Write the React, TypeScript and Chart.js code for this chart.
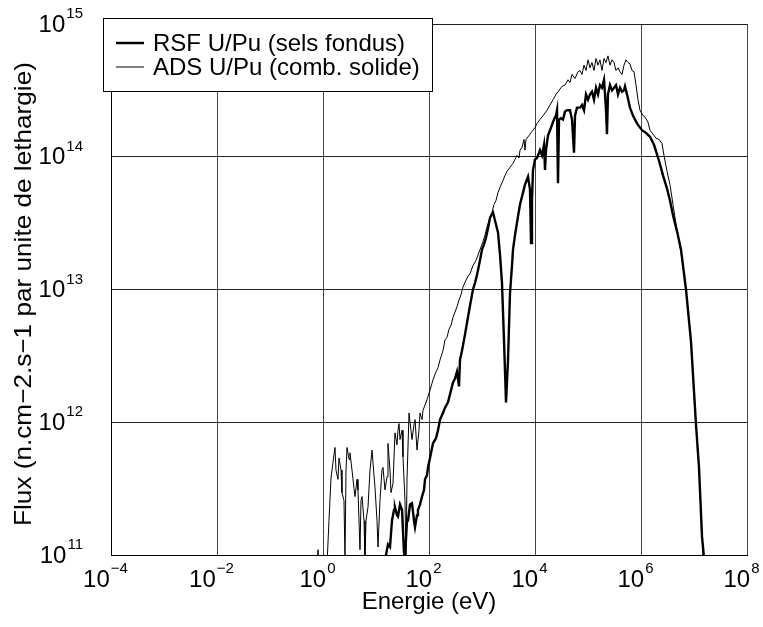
import { useEffect, useRef } from "react";
import { Chart, registerables } from "chart.js";

Chart.register(...registerables);

// Values, stored as log10 of energy (eV) and log10 of flux.
const rsfLog10Energy = [
  1.170, 1.189, 1.226, 1.264, 1.302, 1.340, 1.358, 1.396, 1.415, 1.453, 1.491, 1.528, 1.547, 1.585, 1.604,
  1.642, 1.679, 1.717, 1.736, 1.774, 1.792, 1.830, 1.868, 1.906, 1.925, 1.962, 1.981, 2.019, 2.075, 2.132,
  2.170, 2.208, 2.264, 2.302, 2.358, 2.396, 2.453, 2.491, 2.528, 2.566, 2.585, 2.623, 2.679, 2.717, 2.774,
  2.830, 2.868, 2.906, 2.962, 3.000, 3.038, 3.075, 3.113, 3.151, 3.189, 3.208, 3.245, 3.283, 3.302, 3.340,
  3.377, 3.415, 3.453, 3.491, 3.528, 3.566, 3.585, 3.623, 3.679, 3.717, 3.774, 3.811, 3.868, 3.906, 3.925,
  3.943, 3.962, 4.000, 4.038, 4.094, 4.132, 4.170, 4.189, 4.208, 4.245, 4.283, 4.321, 4.358, 4.396, 4.415,
  4.434, 4.453, 4.491, 4.528, 4.566, 4.604, 4.660, 4.698, 4.736, 4.755, 4.792, 4.849, 4.887, 4.925, 4.962,
  5.000, 5.038, 5.075, 5.113, 5.151, 5.189, 5.226, 5.264, 5.302, 5.321, 5.340, 5.358, 5.377, 5.415, 5.453,
  5.491, 5.528, 5.566, 5.604, 5.642, 5.679, 5.698, 5.736, 5.792, 5.849, 5.887, 5.943, 6.019, 6.094, 6.170,
  6.245, 6.340, 6.415, 6.491, 6.547, 6.604, 6.679, 6.755, 6.849, 6.943, 7.038, 7.094, 7.151, 7.189, 7.208,
];
const rsfLog10Flux = [
  10.92, 11.00, 11.08, 11.06, 11.26, 11.34, 11.36, 11.30, 11.29, 11.38, 11.34, 11.02, 10.98, 11.26, 11.26,
  11.38, 11.39, 11.26, 11.21, 11.30, 11.34, 11.38, 11.44, 11.49, 11.57, 11.60, 11.66, 11.73, 11.84, 11.88,
  11.94, 12.02, 12.07, 12.11, 12.15, 12.21, 12.30, 12.33, 12.38, 12.27, 12.47, 12.54, 12.66, 12.75, 12.88,
  13.00, 13.05, 13.11, 13.22, 13.30, 13.34, 13.39, 13.46, 13.54, 13.57, 13.58, 13.52, 13.46, 13.43, 13.26,
  13.05, 12.62, 12.15, 12.47, 12.97, 13.18, 13.30, 13.41, 13.55, 13.64, 13.73, 13.79, 13.85, 13.75, 13.35,
  13.67, 13.90, 13.98, 13.99, 14.05, 14.01, 14.09, 13.90, 14.05, 14.16, 14.20, 14.24, 14.28, 14.31, 14.35,
  13.80, 14.28, 14.29, 14.28, 14.34, 14.35, 14.35, 14.28, 14.03, 14.31, 14.37, 14.37, 14.39, 14.35, 14.47,
  14.43, 14.47, 14.49, 14.43, 14.52, 14.47, 14.54, 14.52, 14.58, 14.47, 14.35, 14.17, 14.47, 14.54, 14.50,
  14.52, 14.54, 14.47, 14.52, 14.49, 14.50, 14.53, 14.47, 14.37, 14.31, 14.28, 14.24, 14.20, 14.18, 14.15,
  14.09, 13.97, 13.86, 13.76, 13.67, 13.56, 13.44, 13.30, 13.00, 12.61, 11.98, 11.66, 11.14, 10.98, 10.89,
];

const adsLog10Energy = [
  -0.113, -0.094, -0.075, 0.075, 0.113, 0.151, 0.189, 0.226, 0.245, 0.283, 0.302, 0.340, 0.358, 0.396, 0.415,
  0.434, 0.453, 0.491, 0.509, 0.547, 0.585, 0.604, 0.642, 0.660, 0.698, 0.717, 0.736, 0.774, 0.792, 0.811,
  0.849, 0.887, 0.925, 0.962, 0.981, 1.019, 1.038, 1.075, 1.113, 1.132, 1.170, 1.208, 1.226, 1.264, 1.283,
  1.321, 1.358, 1.396, 1.415, 1.434, 1.453, 1.491, 1.509, 1.547, 1.566, 1.585, 1.623, 1.660, 1.679, 1.717,
  1.736, 1.774, 1.811, 1.830, 1.868, 1.887, 1.925, 1.962, 2.019, 2.075, 2.132, 2.170, 2.208, 2.264, 2.302,
  2.340, 2.377, 2.415, 2.453, 2.491, 2.528, 2.566, 2.604, 2.642, 2.698, 2.736, 2.774, 2.830, 2.887, 2.925,
  2.962, 3.019, 3.057, 3.094, 3.151, 3.189, 3.226, 3.264, 3.302, 3.340, 3.396, 3.434, 3.472, 3.528, 3.585,
  3.623, 3.660, 3.698, 3.717, 3.755, 3.792, 3.811, 3.830, 3.849, 3.887, 3.925, 3.962, 4.000, 4.038, 4.094,
  4.151, 4.189, 4.226, 4.283, 4.340, 4.396, 4.453, 4.509, 4.566, 4.623, 4.660, 4.698, 4.755, 4.811, 4.849,
  4.887, 4.925, 4.962, 5.000, 5.038, 5.075, 5.113, 5.151, 5.189, 5.226, 5.264, 5.302, 5.340, 5.377, 5.415,
  5.453, 5.491, 5.528, 5.566, 5.604, 5.642, 5.679, 5.717, 5.755, 5.792, 5.830, 5.868, 5.906, 5.943, 5.981,
  6.038, 6.075, 6.132, 6.170, 6.226, 6.283, 6.340, 6.396, 6.434, 6.491, 6.547, 6.604, 6.679, 6.755, 6.849,
  6.943, 7.038, 7.094, 7.151, 7.170, 7.189,
];
const adsLog10Flux = [
  10.92, 11.04, 10.92, 10.92, 11.26, 11.58, 11.70, 11.81, 11.64, 11.57, 11.73, 11.64, 11.47, 11.41, 10.96,
  11.64, 11.81, 11.72, 11.77, 11.64, 11.50, 11.44, 11.57, 11.49, 11.04, 11.41, 11.44, 11.26, 10.96, 11.26,
  11.36, 11.64, 11.79, 11.60, 11.51, 11.26, 11.06, 11.41, 11.64, 11.66, 11.49, 11.59, 11.84, 11.64, 11.47,
  11.54, 11.92, 11.83, 11.94, 11.99, 11.87, 11.94, 11.74, 11.41, 10.96, 11.57, 12.07, 11.94, 11.87, 11.98,
  12.02, 11.79, 11.94, 12.07, 12.02, 12.09, 12.13, 12.17, 12.24, 12.32, 12.38, 12.41, 12.47, 12.54, 12.62,
  12.64, 12.70, 12.73, 12.79, 12.83, 12.87, 12.92, 12.96, 13.02, 13.07, 13.10, 13.12, 13.18, 13.22, 13.26,
  13.30, 13.36, 13.41, 13.47, 13.54, 13.58, 13.64, 13.67, 13.73, 13.77, 13.82, 13.86, 13.89, 13.92, 13.95,
  13.98, 14.01, 13.99, 14.05, 14.07, 14.13, 14.05, 14.13, 14.14, 14.16, 14.18, 14.20, 14.22, 14.25, 14.28,
  14.31, 14.33, 14.35, 14.39, 14.43, 14.47, 14.50, 14.53, 14.54, 14.58, 14.56, 14.62, 14.59, 14.64, 14.65,
  14.62, 14.69, 14.65, 14.73, 14.67, 14.71, 14.65, 14.74, 14.69, 14.73, 14.65, 14.74, 14.71, 14.76, 14.69,
  14.73, 14.71, 14.65, 14.67, 14.64, 14.62, 14.69, 14.73, 14.71, 14.70, 14.65, 14.64, 14.54, 14.43, 14.35,
  14.31, 14.30, 14.26, 14.20, 14.17, 14.14, 14.13, 14.10, 14.01, 13.89, 13.79, 13.64, 13.44, 13.28, 13.00,
  12.61, 11.98, 11.66, 11.14, 11.00, 10.89,
];

const seriesLabels = ["RSF U/Pu (sels fondus)", "ADS U/Pu (comb. solide)"];
const xTickExponents = [-4, -2, 0, 2, 4, 6, 8];
const yTickExponents = [11, 12, 13, 14, 15];
const xAxisTitle = "Energie (eV)";
const yAxisTitle = "Flux (n.cm\u22122.s\u22121 par unite de lethargie)";

const FONT = '"Liberation Sans", Arial, Helvetica, sans-serif';

function toPoints(logE: number[], logF: number[]) {
  return logE.map((e, i) => ({ x: Math.pow(10, e), y: Math.pow(10, logF[i]) }));
}

function expText(e: number) {
  return e < 0 ? "\u2212" + Math.abs(e) : String(e);
}

const textPlugin = {
  id: "customText",
  afterDraw(chart: any) {
    const ctx = chart.ctx as CanvasRenderingContext2D;
    const xs = chart.scales.x;
    const ys = chart.scales.y;
    const base = `24px ${FONT}`;
    const sup = `15px ${FONT}`;
    ctx.save();
    ctx.fillStyle = "#000";
    ctx.textBaseline = "middle";
    ctx.textAlign = "left";

    // x tick labels
    xTickExponents.forEach((e) => {
      const px = xs.getPixelForValue(Math.pow(10, e));
      const s = expText(e);
      ctx.font = base;
      const w1 = ctx.measureText("10").width;
      ctx.font = sup;
      const w2 = ctx.measureText(s).width;
      const left = px - (w1 + w2) / 2 - 6;
      ctx.font = base;
      ctx.fillText("10", left, 580);
      ctx.font = sup;
      ctx.fillText(s, left + w1 + 1, 569);
    });

    // y tick labels
    yTickExponents.forEach((e) => {
      const py = ys.getPixelForValue(Math.pow(10, e));
      const s = expText(e);
      ctx.font = base;
      const w1 = ctx.measureText("10").width;
      ctx.font = sup;
      const w2 = ctx.measureText(s).width;
      const right = 83;
      const left = right - w2 - 1 - w1;
      ctx.font = base;
      ctx.fillText("10", left, py + 1);
      ctx.font = sup;
      ctx.fillText(s, left + w1 + 1, py - 10);
    });

    // axis titles
    ctx.font = base;
    ctx.textAlign = "center";
    ctx.fillText(xAxisTitle, (xs.left + xs.right) / 2, 602);
    ctx.save();
    ctx.translate(24, 294);
    ctx.rotate(-Math.PI / 2);
    ctx.scale(1.09, 1);
    ctx.fillText(yAxisTitle, 0, 0);
    ctx.restore();

    // legend
    const bx = 103.5, by = 18.5, bw = 329, bh = 73;
    ctx.fillStyle = "#fff";
    ctx.fillRect(bx, by, bw, bh);
    ctx.strokeStyle = "#000";
    ctx.lineWidth = 1;
    ctx.strokeRect(bx, by, bw, bh);
    const rows = [
      { y: 43, w: 2.5 },
      { y: 67, w: 1 },
    ];
    ctx.fillStyle = "#000";
    ctx.textAlign = "left";
    ctx.font = base;
    rows.forEach((r, i) => {
      ctx.beginPath();
      ctx.lineWidth = r.w;
      ctx.moveTo(116, r.y);
      ctx.lineTo(144, r.y);
      ctx.stroke();
      ctx.fillText(seriesLabels[i], 153, r.y + 1);
    });
    ctx.restore();
  },
};

export default function App() {
  const canvasRef = useRef<HTMLCanvasElement | null>(null);

  useEffect(() => {
    const canvas = canvasRef.current;
    if (!canvas) return;
    const chart = new Chart(canvas, {
      type: "scatter",
      data: {
        datasets: [
          {
            label: seriesLabels[0],
            data: toPoints(rsfLog10Energy, rsfLog10Flux),
            showLine: true,
            borderColor: "#000",
            backgroundColor: "#000",
            borderWidth: 2.4,
            pointRadius: 0,
            tension: 0,
          },
          {
            label: seriesLabels[1],
            data: toPoints(adsLog10Energy, adsLog10Flux),
            showLine: true,
            borderColor: "#000",
            backgroundColor: "#000",
            borderWidth: 1,
            pointRadius: 0,
            tension: 0,
          },
        ],
      },
      options: {
        responsive: false,
        animation: false,
        events: [],
        layout: { padding: { top: 24, right: 16, left: 0, bottom: 0 } },
        plugins: {
          legend: { display: false },
          tooltip: { enabled: false },
          title: { display: false },
        },
        scales: {
          x: {
            type: "logarithmic",
            min: 1e-4,
            max: 1e8,
            afterBuildTicks: (s: any) => {
              s.ticks = xTickExponents.map((e) => ({ value: Math.pow(10, e) }));
            },
            afterFit: (s: any) => {
              s.height = 72;
            },
            ticks: { display: false },
            grid: { color: "#444", lineWidth: 1, drawTicks: false },
            border: { color: "#000", width: 1 },
          },
          y: {
            type: "logarithmic",
            min: 1e11,
            max: 1e15,
            afterBuildTicks: (s: any) => {
              s.ticks = yTickExponents.map((e) => ({ value: Math.pow(10, e) }));
            },
            afterFit: (s: any) => {
              s.width = 111;
            },
            ticks: { display: false },
            grid: { color: "#222", lineWidth: 1, drawTicks: false },
            border: { color: "#000", width: 1 },
          },
        },
      },
      plugins: [textPlugin],
    } as any);
    return () => chart.destroy();
  }, []);

  return (
    <div style={{ position: "absolute", left: 0, top: 0, width: 763, height: 627, background: "#fff" }}>
      <canvas ref={canvasRef} width={763} height={627} style={{ width: 763, height: 627, display: "block" }} />
    </div>
  );
}
